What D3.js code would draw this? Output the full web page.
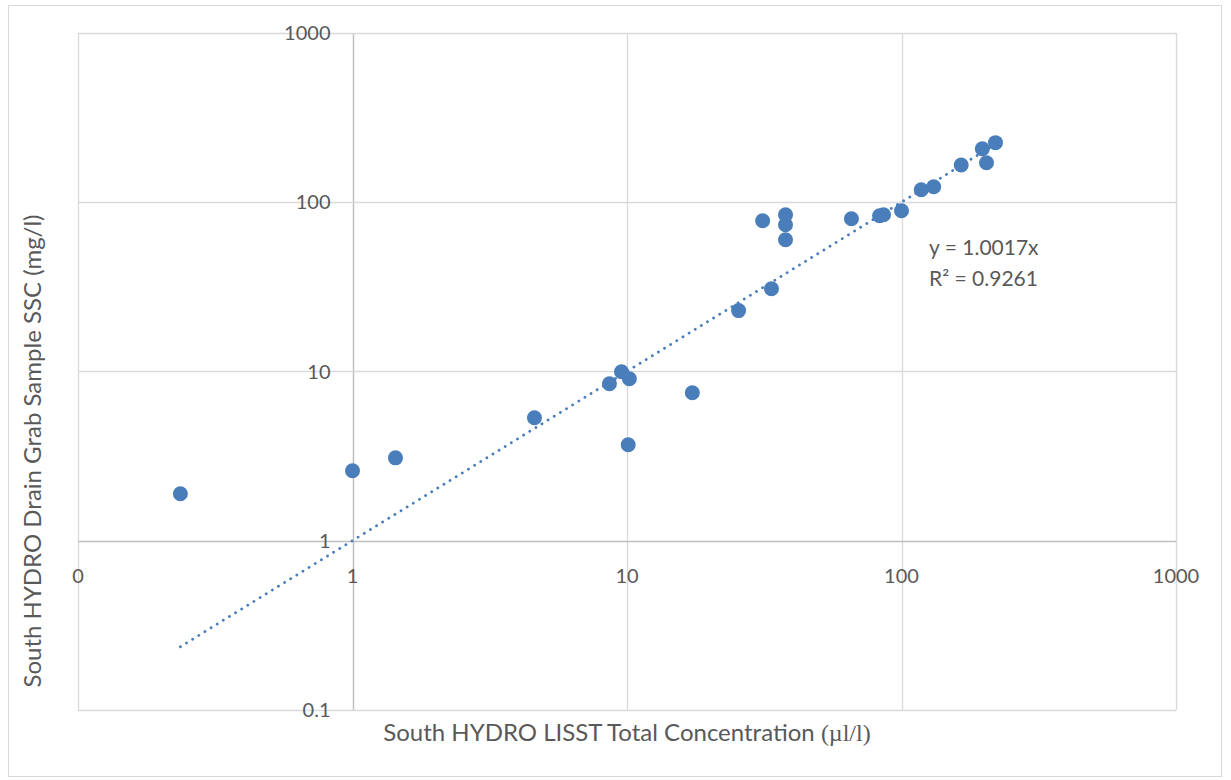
<!DOCTYPE html>
<html>
<head>
<meta charset="utf-8">
<script src="https://cdn.jsdelivr.net/npm/d3@7"></script>
<style>
  html, body { margin: 0; padding: 0; background: #fff; }
  svg { display: block; font-family: Lato, "Open Sans", sans-serif; }
</style>
</head>
<body>
<svg id="chart" width="1231" height="780"></svg>
<script>
// LISST total concentration (µl/l)
const xValues = [0.236, 1.0, 1.434, 4.60, 8.63, 9.55, 10.2, 10.1, 17.3, 25.5, 33.6, 31.2, 37.8, 37.8, 37.8, 65.7, 83.2, 86, 100, 118, 131, 165, 197, 204, 220];
// Drain grab sample SSC (mg/l)
const yValues = [1.896, 2.59, 3.09, 5.33, 8.47, 9.97, 9.06, 3.69, 7.49, 22.9, 30.8, 77.8, 84.4, 73.6, 60.0, 79.9, 83.2, 84.4, 89.1, 118.6, 123.5, 166, 207, 171, 225];
const tickValues = [0.1, 1, 10, 100, 1000];
const xTickLabels = ["0", "1", "10", "100", "1000"];
const yTickLabels = ["0.1", "1", "10", "100", "1000"];
const trendSlope = 1.0017;
const equationLines = ["y = 1.0017x", "R\u00B2 = 0.9261"];

const svg = d3.select("#chart");
const color = "#4a7ebb";
const textColor = "#595959";
const gridColor = "#d9d9d9";

// outer border
svg.append("rect").attr("x", 8.5).attr("y", 5.5).attr("width", 1213).attr("height", 771)
  .attr("fill", "none").attr("stroke", gridColor).attr("stroke-width", 1);

const x = d3.scaleLog().domain([0.1, 1000]).range([78, 1176]);
const y = d3.scaleLog().domain([0.1, 1000]).range([710, 33]);

const g = svg.append("g");

// grid lines
g.selectAll("line.vg").data(tickValues).enter().append("line")
  .attr("x1", d => Math.round(x(d)) + 0.5).attr("x2", d => Math.round(x(d)) + 0.5)
  .attr("y1", y(1000)).attr("y2", y(0.1))
  .attr("stroke", d => d === 1 ? "#bfbfbf" : gridColor).attr("stroke-width", d => d === 1 ? 1.5 : 1.3);
g.selectAll("line.hg").data(tickValues).enter().append("line")
  .attr("y1", d => Math.round(y(d)) + 0.5).attr("y2", d => Math.round(y(d)) + 0.5)
  .attr("x1", x(0.1)).attr("x2", x(1000))
  .attr("stroke", d => d === 1 ? "#bfbfbf" : gridColor).attr("stroke-width", d => d === 1 ? 1.5 : 1.3);

// y tick labels (axis crosses at x = 1)
g.selectAll("text.yt").data(tickValues).enter().append("text")
  .attr("x", x(1) - 22).attr("y", d => y(d)).attr("dy", "0.35em")
  .attr("text-anchor", "end").attr("fill", textColor).attr("font-size", 20)
  .text((d, i) => yTickLabels[i]);

// x tick labels (axis crosses at y = 1)
g.selectAll("text.xt").data(tickValues).enter().append("text")
  .attr("x", d => x(d)).attr("y", y(1) + 35).attr("dy", "0.35em")
  .attr("text-anchor", "middle").attr("fill", textColor).attr("font-size", 20)
  .text((d, i) => xTickLabels[i]);

// trendline
const xMin = d3.min(xValues), xMax = d3.max(xValues);
const trendPts = d3.range(0, 101).map(i => {
  const xv = Math.pow(10, Math.log10(xMin) + (Math.log10(xMax) - Math.log10(xMin)) * i / 100);
  return [xv, trendSlope * xv];
});
g.append("path")
  .datum(trendPts)
  .attr("d", d3.line().x(d => x(d[0])).y(d => y(d[1])))
  .attr("fill", "none").attr("stroke", color).attr("stroke-width", 2.8)
  .attr("stroke-linecap", "round").attr("stroke-dasharray", "0.1 7.1");

// points
g.selectAll("circle").data(xValues).enter().append("circle")
  .attr("cx", d => x(d)).attr("cy", (d, i) => y(yValues[i]))
  .attr("r", 7.5).attr("fill", color);

// equation
g.selectAll("text.eq").data(equationLines).enter().append("text")
  .attr("x", 929).attr("y", (d, i) => 248 + i * 31).attr("dy", "0.35em")
  .attr("fill", textColor).attr("font-size", 21).text(d => d);

// axis titles
const xt = svg.append("text").attr("x", 627).attr("y", 733).attr("dy", "0.35em")
  .attr("text-anchor", "middle").attr("fill", textColor).attr("font-size", 24);
xt.append("tspan").text("South HYDRO LISST Total Concentration ");
xt.append("tspan").attr("font-family", "'Liberation Serif', 'DejaVu Serif', serif").text("(\u00B5l/l)");

svg.append("text").attr("transform", "translate(33,451) rotate(-90)").attr("dy", "0.35em")
  .attr("text-anchor", "middle").attr("fill", textColor).attr("font-size", 24)
  .text("South HYDRO Drain Grab Sample SSC (mg/l)");
</script>
</body>
</html>
